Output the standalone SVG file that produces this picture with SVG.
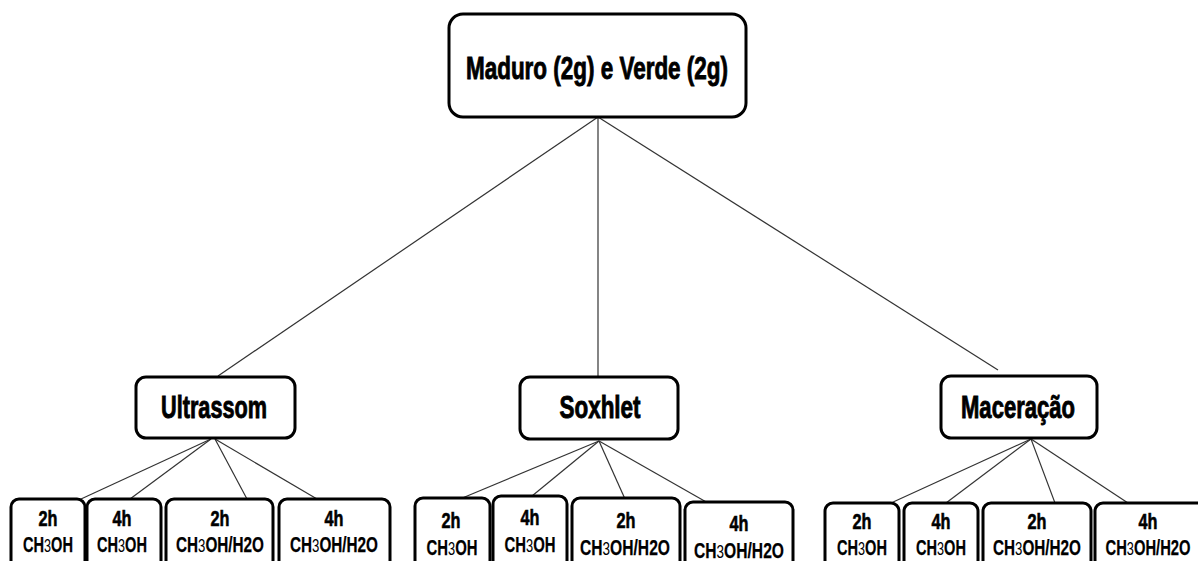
<svg xmlns="http://www.w3.org/2000/svg" width="1198" height="561" viewBox="0 0 1198 561">
<style>
.box{fill:#fff;stroke:#000;stroke-width:3}
.t{font-family:"Liberation Sans",Arial,sans-serif;font-weight:bold;fill:#000;stroke:#000;stroke-width:0.6;text-anchor:middle}
.big{font-size:31px;stroke-width:0.9}
.h{font-size:22px}
.s{font-size:22px;stroke-width:0.25}
.n{font-weight:normal;font-size:19px;stroke-width:0}
#connectors line{stroke:#333;stroke-width:1.2}
</style>
<rect width="1198" height="561" fill="#fff"/>
<g id="connectors">
<line x1="598" y1="117" x2="218" y2="376"/>
<line x1="598" y1="117" x2="598" y2="377"/>
<line x1="598" y1="117" x2="998" y2="370"/>
<line x1="211" y1="439" x2="81" y2="499"/>
<line x1="211" y1="439" x2="130" y2="499"/>
<line x1="215" y1="439" x2="247" y2="499"/>
<line x1="215" y1="439" x2="317" y2="499"/>
<line x1="599" y1="441" x2="460" y2="499"/>
<line x1="599" y1="441" x2="532" y2="496"/>
<line x1="599" y1="441" x2="625" y2="499"/>
<line x1="599" y1="441" x2="708" y2="503"/>
<line x1="1031" y1="439" x2="891" y2="503"/>
<line x1="1031" y1="439" x2="946" y2="503"/>
<line x1="1031" y1="439" x2="1055" y2="503"/>
<line x1="1031" y1="439" x2="1128" y2="503"/>
</g>
<g id="root">
<rect class="box" x="449" y="14" width="297" height="103" rx="14"/>
<text class="t big" x="597" y="79" textLength="262" lengthAdjust="spacingAndGlyphs">Maduro (2g) e Verde (2g)</text>
</g>
<g id="ultrassom">
<rect class="box" x="136" y="377" width="159" height="61" rx="10"/>
<text class="t big" x="214" y="418" textLength="106" lengthAdjust="spacingAndGlyphs">Ultrassom</text>
</g>
<g id="soxhlet">
<rect class="box" x="520" y="377" width="158" height="62" rx="10"/>
<text class="t big" x="600" y="418" textLength="81" lengthAdjust="spacingAndGlyphs">Soxhlet</text>
</g>
<g id="maceracao">
<rect class="box" x="941" y="376" width="156" height="62" rx="10"/>
<text class="t big" x="1018" y="418" textLength="114" lengthAdjust="spacingAndGlyphs">Maceração</text>
</g>
<g id="u1">
<rect class="box" x="11" y="499" width="74" height="80" rx="8"/>
<text class="t h" x="48" y="526" textLength="19" lengthAdjust="spacingAndGlyphs">2h</text>
<text class="t s" x="48" y="552" textLength="50" lengthAdjust="spacingAndGlyphs">CH<tspan class="n">3</tspan>OH</text>
</g>
<g id="u2">
<rect class="box" x="87" y="499" width="74" height="80" rx="8"/>
<text class="t h" x="122" y="526" textLength="19" lengthAdjust="spacingAndGlyphs">4h</text>
<text class="t s" x="122" y="552" textLength="50" lengthAdjust="spacingAndGlyphs">CH<tspan class="n">3</tspan>OH</text>
</g>
<g id="u3">
<rect class="box" x="166" y="499" width="107" height="80" rx="8"/>
<text class="t h" x="220" y="526" textLength="19" lengthAdjust="spacingAndGlyphs">2h</text>
<text class="t s" x="220" y="552" textLength="88" lengthAdjust="spacingAndGlyphs">CH<tspan class="n">3</tspan>OH/H2O</text>
</g>
<g id="u4">
<rect class="box" x="279" y="499" width="111" height="80" rx="8"/>
<text class="t h" x="334" y="526" textLength="19" lengthAdjust="spacingAndGlyphs">4h</text>
<text class="t s" x="334" y="552" textLength="88" lengthAdjust="spacingAndGlyphs">CH<tspan class="n">3</tspan>OH/H2O</text>
</g>
<g id="s1">
<rect class="box" x="415" y="498" width="75" height="80" rx="8"/>
<text class="t h" x="451" y="528" textLength="19" lengthAdjust="spacingAndGlyphs">2h</text>
<text class="t s" x="452" y="555" textLength="51" lengthAdjust="spacingAndGlyphs">CH<tspan class="n">3</tspan>OH</text>
</g>
<g id="s2">
<rect class="box" x="493" y="496" width="74" height="80" rx="8"/>
<text class="t h" x="530" y="525" textLength="19" lengthAdjust="spacingAndGlyphs">4h</text>
<text class="t s" x="530" y="552" textLength="51" lengthAdjust="spacingAndGlyphs">CH<tspan class="n">3</tspan>OH</text>
</g>
<g id="s3">
<rect class="box" x="572" y="498" width="108" height="80" rx="8"/>
<text class="t h" x="626" y="528" textLength="19" lengthAdjust="spacingAndGlyphs">2h</text>
<text class="t s" x="625" y="555" textLength="90" lengthAdjust="spacingAndGlyphs">CH<tspan class="n">3</tspan>OH/H2O</text>
</g>
<g id="s4">
<rect class="box" x="685" y="502" width="108" height="80" rx="8"/>
<text class="t h" x="739" y="531" textLength="19" lengthAdjust="spacingAndGlyphs">4h</text>
<text class="t s" x="739" y="558" textLength="90" lengthAdjust="spacingAndGlyphs">CH<tspan class="n">3</tspan>OH/H2O</text>
</g>
<g id="m1">
<rect class="box" x="825" y="503" width="74" height="80" rx="8"/>
<text class="t h" x="862" y="529" textLength="19" lengthAdjust="spacingAndGlyphs">2h</text>
<text class="t s" x="862" y="555" textLength="50" lengthAdjust="spacingAndGlyphs">CH<tspan class="n">3</tspan>OH</text>
</g>
<g id="m2">
<rect class="box" x="904" y="503" width="74" height="80" rx="8"/>
<text class="t h" x="941" y="529" textLength="19" lengthAdjust="spacingAndGlyphs">4h</text>
<text class="t s" x="941" y="555" textLength="50" lengthAdjust="spacingAndGlyphs">CH<tspan class="n">3</tspan>OH</text>
</g>
<g id="m3">
<rect class="box" x="983" y="503" width="108" height="80" rx="8"/>
<text class="t h" x="1037" y="529" textLength="19" lengthAdjust="spacingAndGlyphs">2h</text>
<text class="t s" x="1037" y="555" textLength="88" lengthAdjust="spacingAndGlyphs">CH<tspan class="n">3</tspan>OH/H2O</text>
</g>
<g id="m4">
<rect class="box" x="1095" y="503" width="110" height="80" rx="8"/>
<text class="t h" x="1148" y="529" textLength="19" lengthAdjust="spacingAndGlyphs">4h</text>
<text class="t s" x="1148" y="555" textLength="85" lengthAdjust="spacingAndGlyphs">CH<tspan class="n">3</tspan>OH/H2O</text>
</g>
</svg>
